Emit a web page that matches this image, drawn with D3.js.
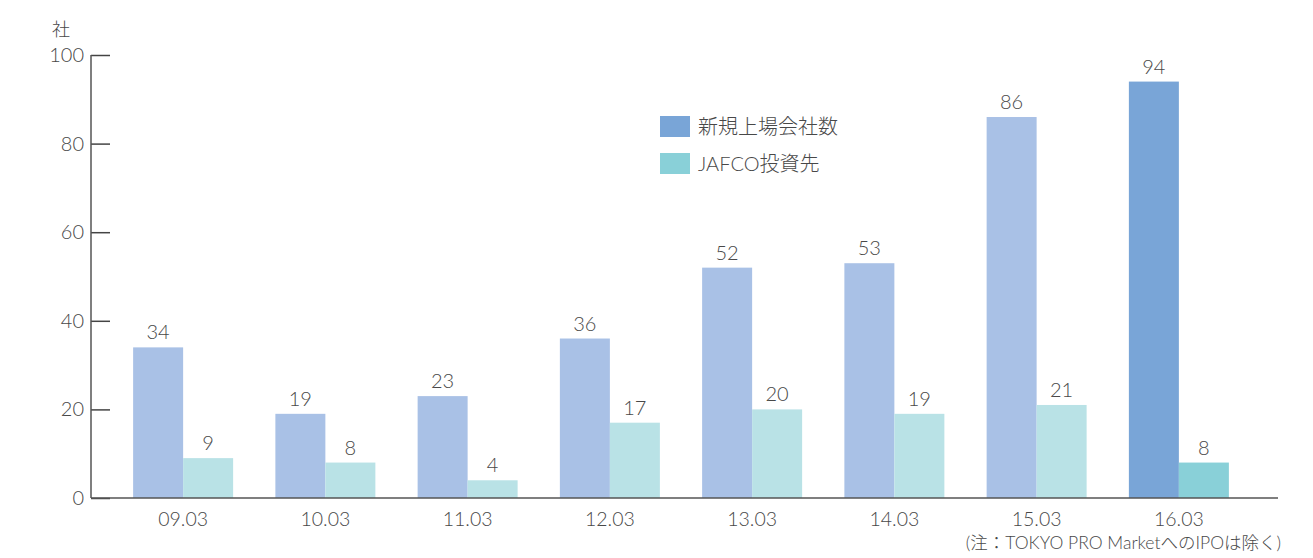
<!DOCTYPE html>
<html>
<head>
<meta charset="utf-8">
<script src="https://cdn.jsdelivr.net/npm/d3@7"></script>
<style>
  body { margin: 0; background: #fff; }
  text { font-family: "Lato", "Noto Sans CJK JP", sans-serif; font-weight: 300; fill: #484848; }
</style>
</head>
<body>
<div id="chart"></div>
<script>
var years = ["09.03", "10.03", "11.03", "12.03", "13.03", "14.03", "15.03", "16.03"];
var ipoCount = [34, 19, 23, 36, 52, 53, 86, 94];
var jafcoCount = [9, 8, 4, 17, 20, 19, 21, 8];
var yTicks = [0, 20, 40, 60, 80, 100];
var seriesNames = ["新規上場会社数", "JAFCO投資先"];

var width = 1313, height = 558;
var lightColors = ["#a9c1e6", "#b9e2e6"];
var darkColors = ["#79a5d7", "#89d0d8"];

var svg = d3.select("#chart").append("svg").attr("width", width).attr("height", height);

var x = d3.scaleBand().domain(years).range([112, 1250]).paddingInner(0).paddingOuter(0);
var sub = d3.scaleBand().domain([0, 1]).range([x.bandwidth() / 2 - 50, x.bandwidth() / 2 + 50]);
var y = d3.scaleLinear().domain([0, 100]).range([498, 55]);

var data = years.map(function(d, i) {
  return { year: d, values: [ipoCount[i], jafcoCount[i]], last: i === years.length - 1 };
});

var groups = svg.selectAll("g.grp").data(data).enter().append("g")
  .attr("class", "grp")
  .attr("transform", function(d) { return "translate(" + x(d.year) + ",0)"; });

groups.selectAll("rect").data(function(d) {
  return d.values.map(function(v, k) { return { v: v, k: k, last: d.last }; });
}).enter().append("rect")
  .attr("x", function(d) { return sub(d.k); })
  .attr("width", sub.bandwidth())
  .attr("y", function(d) { return y(d.v); })
  .attr("height", function(d) { return y(0) - y(d.v); })
  .attr("fill", function(d) { return d.last ? darkColors[d.k] : lightColors[d.k]; });

groups.selectAll("text.val").data(function(d) {
  return d.values.map(function(v, k) { return { v: v, k: k }; });
}).enter().append("text")
  .attr("class", "val")
  .attr("x", function(d) { return sub(d.k) + sub.bandwidth() / 2; })
  .attr("y", function(d) { return y(d.v) - 8; })
  .attr("text-anchor", "middle")
  .attr("font-size", 20)
  .text(function(d) { return d.v; });

// y axis
var yAxis = d3.axisRight(y).tickValues(yTicks).tickSize(19).tickFormat("");
var yg = svg.append("g").attr("transform", "translate(91,0)").call(yAxis);
yg.select(".domain").remove();
yg.selectAll(".tick line").attr("stroke", "#444").attr("stroke-width", 1.5);
svg.append("line").attr("x1", 91).attr("x2", 91).attr("y1", y(100)).attr("y2", y(0))
  .attr("stroke", "#555").attr("stroke-width", 1.5);

svg.selectAll("text.ytick").data(yTicks).enter().append("text")
  .attr("class", "ytick")
  .attr("x", 84)
  .attr("y", function(d) { return y(d) + 7; })
  .attr("text-anchor", "end")
  .attr("font-size", 20)
  .text(function(d) { return d; });

svg.append("text").attr("x", 61).attr("y", 36).attr("text-anchor", "middle")
  .attr("font-size", 18).text("社");

// x axis
svg.append("line").attr("x1", 91).attr("x2", 1278).attr("y1", y(0)).attr("y2", y(0))
  .attr("stroke", "#555").attr("stroke-width", 1.5);
svg.selectAll("text.xtick").data(years).enter().append("text")
  .attr("class", "xtick")
  .attr("x", function(d) { return x(d) + x.bandwidth() / 2; })
  .attr("y", 526)
  .attr("text-anchor", "middle")
  .attr("font-size", 19.5)
  .text(function(d) { return d; });

// legend
var legend = svg.selectAll("g.leg").data(seriesNames).enter().append("g")
  .attr("class", "leg")
  .attr("transform", function(d, i) { return "translate(660," + (116 + i * 37) + ")"; });
legend.append("rect").attr("width", 30).attr("height", 21)
  .attr("fill", function(d, i) { return darkColors[i]; });
legend.append("text").attr("x", 38).attr("y", 18).attr("font-size", 20)
  .text(function(d) { return d; });

svg.append("text").attr("x", 1281).attr("y", 549).attr("text-anchor", "end")
  .attr("font-size", 17.5).text("(注：TOKYO PRO MarketへのIPOは除く)");
</script>
</body>
</html>
